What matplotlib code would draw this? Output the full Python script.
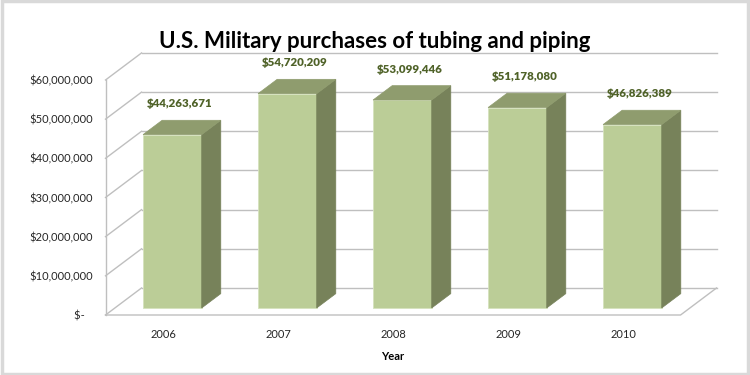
import matplotlib
matplotlib.use("Agg")
import matplotlib.pyplot as plt
from matplotlib.patches import Polygon, Rectangle

years = ["2006", "2007", "2008", "2009", "2010"]
purchases = [44263671, 54720209, 53099446, 51178080, 46826389]
yticks = [0, 10e6, 20e6, 30e6, 40e6, 50e6, 60e6]

plt.rcParams['font.family'] = ['Lato', 'DejaVu Sans']

fig = plt.figure(figsize=(7.5, 3.75), dpi=100)
ax = fig.add_axes([0.1407, 0.16, 0.7667, 0.6267])
ax.set_xlim(-0.5, 4.5)
ax.set_ylim(0, 60e6)

# fake 3d depth (full depth of the plot box, in data units)
DX, DY = 0.313, 6.9e6
d0, s = 0.26, 0.53   # bar front plane, bar depth
grid_c = "#BFBFBF"

for v in yticks:
    # back wall
    ax.plot([-0.5 + DX, 4.5 + DX], [v + DY, v + DY], color=grid_c, lw=1, clip_on=False, zorder=1)
    # side wall
    ax.plot([-0.5, -0.5 + DX], [v, v + DY], color=grid_c, lw=1, clip_on=False, zorder=1)
ax.plot([-0.5, -0.5], [0, 60e6], color=grid_c, lw=1, clip_on=False, zorder=1)
ax.plot([-0.5, 4.5, 4.5 + DX], [0, 0, DY], color=grid_c, lw=1, clip_on=False, zorder=1)

w = 0.51
xs = [i + d0 * DX for i in range(len(years))]
ax.bar(xs, purchases, width=w, bottom=d0 * DY, color="#BBCD97",
       edgecolor="#D5E2BD", lw=0.6, zorder=3, clip_on=False)

for x, v in zip(xs, purchases):
    x0, x1, y0 = x - w / 2, x + w / 2, d0 * DY
    side = [(x1, y0), (x1 + s * DX, y0 + s * DY), (x1 + s * DX, y0 + v + s * DY), (x1, y0 + v)]
    top = [(x0, y0 + v), (x1, y0 + v), (x1 + s * DX, y0 + v + s * DY), (x0 + s * DX, y0 + v + s * DY)]
    ax.add_patch(Polygon(side, closed=True, fc="#77825A", ec="#77825A", lw=0.5, zorder=3, clip_on=False))
    ax.add_patch(Polygon(top, closed=True, fc="#8F9C6E", ec="#8F9C6E", lw=0.5, zorder=3, clip_on=False))
    ax.annotate(f"${v:,.0f}", (x + s * DX / 2 - 0.02, y0 + v + s * DY), xytext=(0, 8),
                textcoords="offset points", ha="center", va="bottom", annotation_clip=False,
                fontsize=8.3, fontweight="heavy", color="#4F6228", zorder=5)

for sp in ax.spines.values():
    sp.set_visible(False)
ax.set_xticks(range(len(years)))
ax.set_xticklabels(years)
ax.set_yticks(yticks)
ax.set_yticklabels([f"${v:,.0f}" if v else "$-   " for v in yticks])
ax.tick_params(axis="both", length=0, labelsize=8, colors="#262626")
ax.tick_params(axis="x", pad=10)
ax.tick_params(axis="y", pad=9)
ax.set_xlabel("Year", fontsize=8, fontweight="bold", labelpad=8)
ax.patch.set_visible(False)

fig.text(0.5, 0.89, "U.S. Military purchases of tubing and piping", ha="center", va="center",
         fontsize=16, fontweight="bold", color="#000000")

fig.patches.append(Rectangle((0.002, 0.003), 0.995, 0.994, transform=fig.transFigure,
                             fill=False, ec="#D9D9D9", lw=2.5))

fig.savefig("out.png", dpi=100)
